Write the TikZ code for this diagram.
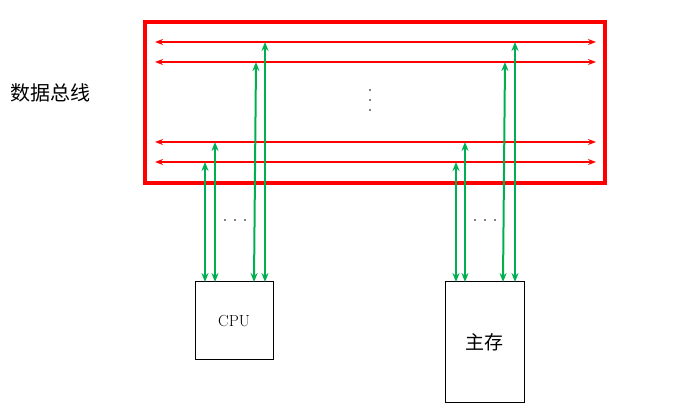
\documentclass[tikz,border=0pt]{standalone}
\usepackage{fontspec}
\newfontfamily\cjk{Noto Sans CJK SC}
\usetikzlibrary{arrows.meta}
\definecolor{busred}{RGB}{255,0,0}
\definecolor{lgreen}{RGB}{0,176,80}
\begin{document}
\begin{tikzpicture}[x=1pt,y=-1pt,
  bus/.style={busred,line width=1.5pt,{Stealth[length=8pt,width=6pt]}-{Stealth[length=8pt,width=6pt]}},
  link/.style={lgreen,line width=2pt,{Stealth[length=9pt,width=7pt]}-{Stealth[length=9pt,width=7pt]}},
  box/.style={draw,line width=1pt,inner sep=0pt},
  dot/.style={fill,circle,inner sep=0pt,minimum size=1.8pt}]
\useasboundingbox (0,0) rectangle (689,411);
\node[draw=busred,line width=3.5pt,minimum width=460pt,minimum height=161pt,inner sep=0pt] (frame) at (375,102.5) {};
\foreach \y/\n in {42/a,62/b,142/c,162/d}{
  \coordinate (L\n) at (155,\y); \coordinate (R\n) at (596,\y);
  \draw[bus] (L\n) -- (R\n);}
\foreach \y in {90,100,110} \node[dot] at (370,\y) {};
\node[font=\cjk\fontsize{20}{20}\selectfont] (lbl) at (50,93) {数据总线};
\node[box,minimum width=78pt,minimum height=78pt] (cpu) at (234,321) {\fontsize{16}{16}\selectfont CPU};
\node[box,minimum width=79pt,minimum height=121pt] (mem) at (484.5,342.5) {\cjk\fontsize{19}{19}\selectfont 主存};
\foreach \x/\t/\n in {205/162/c1,215/142/c2,256/62/c3,265/42/c4,456/162/m1,465/142/m2,505/62/m3,515/42/m4}{
  \coordinate (B\n) at (\x,282); \coordinate (T\n) at (\x,\t);}
\coordinate (Bc3) at (254,282); \coordinate (Bm3) at (503,282);
\foreach \n in {c1,c2,c3,c4,m1,m2,m3,m4} \draw[link] (B\n) -- (T\n);
\foreach \x in {225,235,245} \node[dot] at (\x,220) {};
\foreach \x in {475,485,495} \node[dot] at (\x,220) {};
\end{tikzpicture}
\end{document}
